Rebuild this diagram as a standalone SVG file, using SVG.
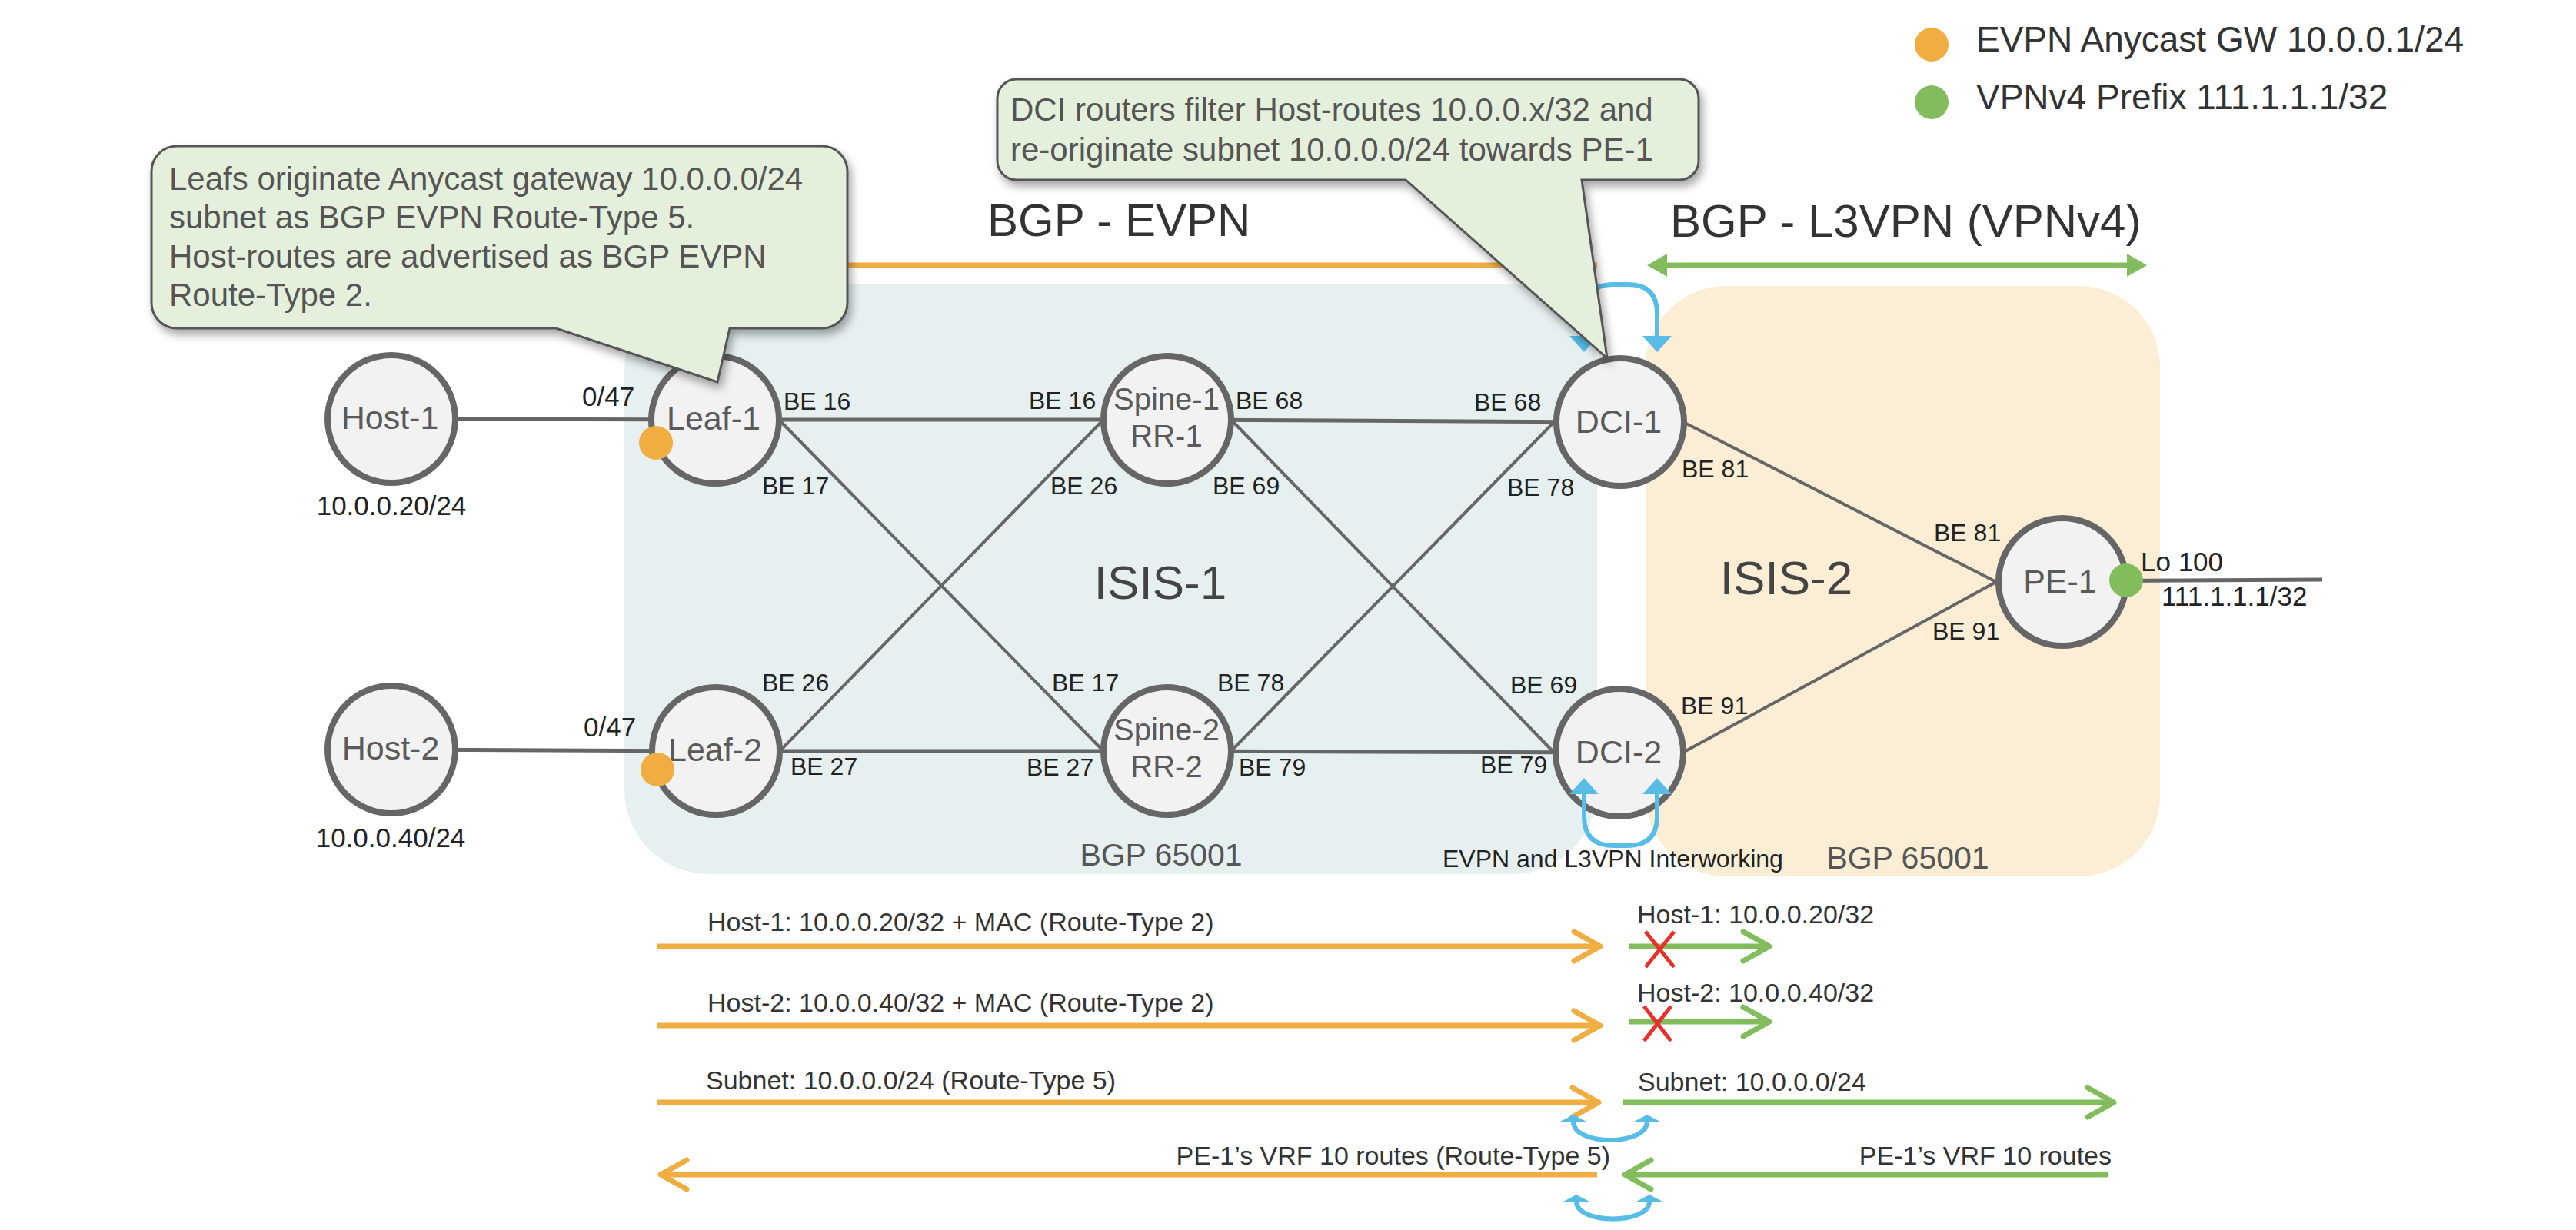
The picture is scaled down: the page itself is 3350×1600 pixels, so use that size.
<svg xmlns="http://www.w3.org/2000/svg" width="3350" height="1600" viewBox="0 0 3350 1600">
<defs>
<style>
text{font-family:"Liberation Sans",Arial,sans-serif}
.node circle{fill:#f2f2f2;stroke:#666;stroke-width:8}
.nl{font-size:43px;fill:#5a5a5a;text-anchor:middle}
.nl2{font-size:40px;fill:#5a5a5a;text-anchor:middle}
.lk{stroke:#666;stroke-width:5;fill:none}
.lkd{stroke:#666;stroke-width:4;fill:none}
.be{font-size:32px;fill:#222}
.num{font-size:35px;fill:#222}
.big{font-size:60px;fill:#333}
.isis{font-size:62px;fill:#444;text-anchor:middle}
.bgp{font-size:41px;fill:#555;text-anchor:middle}
.co{fill:#e4f0dc;stroke:#555;stroke-width:3;filter:url(#sh)}
.cot{font-size:42px;fill:#555}
.leg{font-size:46px;fill:#333}
.or{stroke:#f0ad42;stroke-width:7;fill:none}
.gr{stroke:#82bc5c;stroke-width:7;fill:none}
.bl{stroke:#57bce6;stroke-width:6;fill:none}
.rl{font-size:34px;fill:#333}
.x{stroke:#e8302a;stroke-width:5}
</style>
<filter id="sh" x="-10%" y="-10%" width="130%" height="140%"><feDropShadow dx="4" dy="7" stdDeviation="6" flood-color="#000" flood-opacity="0.35"/></filter>
<marker id="chO" markerUnits="userSpaceOnUse" markerWidth="44" markerHeight="44" refX="37" refY="22" orient="auto" overflow="visible"><path d="M3,3 L37,22 L3,41" fill="none" stroke="#f0ad42" stroke-width="7" stroke-linecap="round" stroke-linejoin="round"/></marker>
<marker id="chG" markerUnits="userSpaceOnUse" markerWidth="44" markerHeight="44" refX="37" refY="22" orient="auto" overflow="visible"><path d="M3,3 L37,22 L3,41" fill="none" stroke="#82bc5c" stroke-width="7" stroke-linecap="round" stroke-linejoin="round"/></marker>
<marker id="triG" markerUnits="userSpaceOnUse" markerWidth="26" markerHeight="30" refX="0" refY="15" orient="auto-start-reverse" overflow="visible"><path d="M0,0 L26,15 L0,30 Z" fill="#82bc5c"/></marker>
<marker id="triB" markerUnits="userSpaceOnUse" markerWidth="21" markerHeight="38" refX="0" refY="19" orient="auto-start-reverse" overflow="visible"><path d="M0,0 L21,19 L0,38 Z" fill="#57bce6"/></marker>
<marker id="flatB" markerUnits="userSpaceOnUse" markerWidth="9" markerHeight="34" refX="0" refY="17" orient="auto-start-reverse" overflow="visible"><path d="M0,0 L9,17 L0,34 Z" fill="#57bce6"/></marker>
</defs>
<rect width="3350" height="1600" fill="#fff"/>

<g id="regions">
<rect x="812" y="370" width="1265" height="767" rx="110" ry="110" fill="#e6f0f1"/>
<rect x="2140" y="372" width="669" height="768" rx="105" ry="105" fill="#fcedd5"/>
<text class="isis" x="1509" y="779">ISIS-1</text>
<text class="isis" x="2323" y="773">ISIS-2</text>
<text class="bgp" x="1510" y="1126">BGP 65001</text>
<text class="bgp" x="2481" y="1130">BGP 65001</text>
</g>

<g id="connectors">
<line class="lk" x1="509" y1="545" x2="930" y2="546"/>
<line class="lk" x1="509" y1="975" x2="931" y2="977"/>
<line class="lk" x1="930" y1="546" x2="1518" y2="546"/>
<line class="lk" x1="931" y1="977" x2="1518" y2="977"/>
<line class="lk" x1="1518" y1="546" x2="2107" y2="549"/>
<line class="lk" x1="1518" y1="977" x2="2106" y2="979"/>
<line class="lkd" x1="1015" y1="548" x2="1433" y2="975"/>
<line class="lkd" x1="1016" y1="975" x2="1433" y2="548"/>
<line class="lkd" x1="1603" y1="548" x2="2021" y2="979"/>
<line class="lkd" x1="1603" y1="975" x2="2021" y2="549"/>
<line class="lkd" x1="2193" y1="551" x2="2596" y2="757"/>
<line class="lkd" x1="2192" y1="977" x2="2596" y2="757"/>
<line class="lk" x1="2682" y1="756" x2="3020" y2="754"/>
</g>

<g id="host1" class="node"><circle cx="509" cy="545" r="83"/><text class="nl" x="507" y="558">Host-1</text></g>
<g id="host2" class="node"><circle cx="509" cy="975" r="83"/><text class="nl" x="508" y="988">Host-2</text></g>
<g id="leaf1" class="node"><circle cx="930" cy="546" r="83"/><text class="nl" x="928" y="559">Leaf-1</text></g>
<g id="leaf2" class="node"><circle cx="931" cy="977" r="83"/><text class="nl" x="930" y="990">Leaf-2</text></g>
<g id="spine1" class="node"><circle cx="1518" cy="546" r="83"/><text class="nl2" x="1517" y="533">Spine-1</text><text class="nl2" x="1517" y="581">RR-1</text></g>
<g id="spine2" class="node"><circle cx="1518" cy="977" r="83"/><text class="nl2" x="1517" y="963">Spine-2</text><text class="nl2" x="1517" y="1011">RR-2</text></g>
<g id="dci1" class="node"><circle cx="2107" cy="549" r="83"/><text class="nl" x="2105" y="563">DCI-1</text></g>
<g id="dci2" class="node"><circle cx="2106" cy="979" r="83"/><text class="nl" x="2105" y="993">DCI-2</text></g>
<g id="pe1" class="node"><circle cx="2682" cy="757" r="83"/><text class="nl" x="2679" y="771">PE-1</text></g>

<g id="dots">
<circle cx="853" cy="576" r="22" fill="#f0ad42"/>
<circle cx="855" cy="1001" r="22" fill="#f0ad42"/>
<circle cx="2765" cy="755" r="22" fill="#82bc5c"/>
</g>

<g id="link-labels">
<text class="num" x="757" y="528">0/47</text>
<text class="num" x="759" y="958">0/47</text>
<text class="num" x="509" y="670" text-anchor="middle">10.0.0.20/24</text>
<text class="num" x="508" y="1102" text-anchor="middle">10.0.0.40/24</text>
<text class="be" x="1019" y="533">BE 16</text>
<text class="be" x="1338" y="532">BE 16</text>
<text class="be" x="1607" y="532">BE 68</text>
<text class="be" x="1917" y="534">BE 68</text>
<text class="be" x="991" y="643">BE 17</text>
<text class="be" x="1366" y="643">BE 26</text>
<text class="be" x="1577" y="643">BE 69</text>
<text class="be" x="1960" y="645">BE 78</text>
<text class="be" x="991" y="899">BE 26</text>
<text class="be" x="1368" y="899">BE 17</text>
<text class="be" x="1583" y="899">BE 78</text>
<text class="be" x="1964" y="902">BE 69</text>
<text class="be" x="1028" y="1008">BE 27</text>
<text class="be" x="1335" y="1009">BE 27</text>
<text class="be" x="1611" y="1009">BE 79</text>
<text class="be" x="1925" y="1006">BE 79</text>
<text class="be" x="2187" y="621">BE 81</text>
<text class="be" x="2515" y="704">BE 81</text>
<text class="be" x="2513" y="832">BE 91</text>
<text class="be" x="2186" y="929">BE 91</text>
<text class="num" x="2784" y="743" font-size="34">Lo 100</text>
<text class="num" x="2811" y="788">111.1.1.1/32</text>
<text class="be" x="1876" y="1128">EVPN and L3VPN Interworking</text>
</g>

<g id="loops">
<path class="bl" d="M2060,437 V408 Q2060,370 2098,370 H2117 Q2155,370 2155,408 V437" marker-start="url(#triB)" marker-end="url(#triB)"/>
<path class="bl" d="M2060,1033 V1062 Q2060,1100 2098,1100 H2117 Q2155,1100 2155,1062 V1033" marker-start="url(#triB)" marker-end="url(#triB)"/>
</g>

<g id="sessions">
<line class="or" x1="1000" y1="345" x2="2077" y2="345" stroke-width="6"/>
<path class="gr" d="M2168,345 H2766" marker-start="url(#triG)" marker-end="url(#triG)"/>
<text class="big" x="1284" y="307">BGP - EVPN</text>
<text class="big" x="2172" y="308">BGP - L3VPN (VPNv4)</text>
</g>

<g id="flows">
<path class="or" d="M854,1231 H2081" marker-end="url(#chO)"/>
<path class="or" d="M854,1334 H2081" marker-end="url(#chO)"/>
<path class="or" d="M854,1434 H2079" marker-end="url(#chO)"/>
<path class="or" d="M2077,1528 H859" marker-end="url(#chO)"/>
<path class="gr" d="M2119,1231 H2301" marker-end="url(#chG)"/>
<path class="gr" d="M2119,1329 H2301" marker-end="url(#chG)"/>
<path class="gr" d="M2111,1434 H2749" marker-end="url(#chG)"/>
<path class="gr" d="M2741,1528 H2113" marker-end="url(#chG)"/>
<line class="x" x1="2140" y1="1212" x2="2177" y2="1258"/>
<line class="x" x1="2177" y1="1212" x2="2140" y2="1258"/>
<line class="x" x1="2138" y1="1309" x2="2173" y2="1354"/>
<line class="x" x1="2173" y1="1309" x2="2138" y2="1354"/>
<path class="bl" d="M2046,1459 C2046,1491 2142,1491 2142,1459" stroke-width="5" marker-start="url(#flatB)" marker-end="url(#flatB)"/>
<path class="bl" d="M2050,1563 C2050,1593 2145,1593 2145,1563" stroke-width="5" marker-start="url(#flatB)" marker-end="url(#flatB)"/>
<text class="rl" x="920" y="1211">Host-1: 10.0.0.20/32 + MAC (Route-Type 2)</text>
<text class="rl" x="920" y="1316">Host-2: 10.0.0.40/32 + MAC (Route-Type 2)</text>
<text class="rl" x="918" y="1417">Subnet: 10.0.0.0/24 (Route-Type 5)</text>
<text class="rl" x="2094" y="1515" text-anchor="end">PE-1’s VRF 10 routes (Route-Type 5)</text>
<text class="rl" x="2129" y="1201">Host-1: 10.0.0.20/32</text>
<text class="rl" x="2129" y="1303">Host-2: 10.0.0.40/32</text>
<text class="rl" x="2130" y="1419">Subnet: 10.0.0.0/24</text>
<text class="rl" x="2746" y="1515" text-anchor="end">PE-1’s VRF 10 routes</text>
</g>

<g id="callout-leafs">
<path class="co" d="M230,190 H1069 A33,33 0 0 1 1102,223 V394 A33,33 0 0 1 1069,427 H949 L933,497 L723,427 H230 A33,33 0 0 1 197,394 V223 A33,33 0 0 1 230,190 Z"/>
<text class="cot" x="220" y="247">Leafs originate Anycast gateway 10.0.0.0/24</text>
<text class="cot" x="220" y="297">subnet as BGP EVPN Route-Type 5.</text>
<text class="cot" x="220" y="348">Host-routes are advertised as BGP EVPN</text>
<text class="cot" x="220" y="398">Route-Type 2.</text>
</g>

<g id="callout-dci">
<path class="co" d="M1322,103 H2184 A25,25 0 0 1 2209,128 V209 A25,25 0 0 1 2184,234 H2057 L2090,466 L1828,234 H1322 A25,25 0 0 1 1297,209 V128 A25,25 0 0 1 1322,103 Z"/>
<text class="cot" x="1314" y="157">DCI routers filter Host-routes 10.0.0.x/32 and</text>
<text class="cot" x="1314" y="209">re-originate subnet 10.0.0.0/24 towards PE-1</text>
</g>

<g id="legend">
<circle cx="2512" cy="58" r="22" fill="#f0ad42"/>
<text class="leg" x="2570" y="67">EVPN Anycast GW 10.0.0.1/24</text>
<circle cx="2512" cy="133" r="22" fill="#82bc5c"/>
<text class="leg" x="2570" y="142">VPNv4 Prefix 111.1.1.1/32</text>
</g>
</svg>
